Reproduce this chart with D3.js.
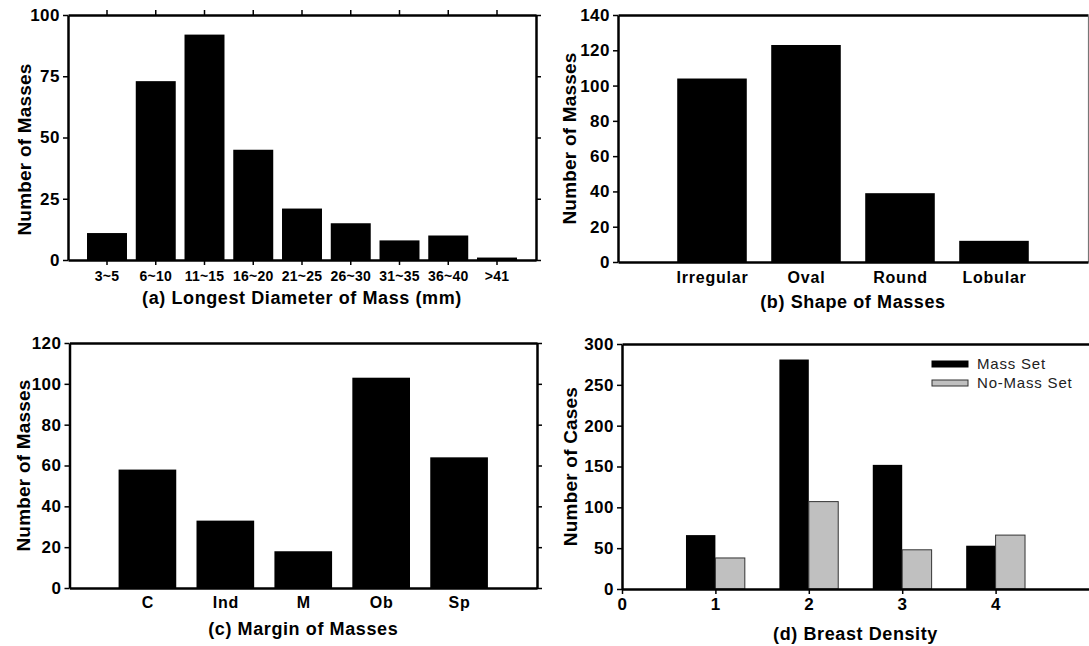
<!DOCTYPE html>
<html>
<head>
<meta charset="utf-8">
<script src="https://cdn.jsdelivr.net/npm/d3@7"></script>
<style>
body { margin: 0; background: #fff; }
svg { font-family: "Liberation Sans", Arial, sans-serif; }
.axis text { font-size: 16px; font-weight: bold; fill: #000; letter-spacing: 0.8px; }
.axis line { stroke: #000; stroke-width: 1.5; }
.axis path { stroke: #000; stroke-width: 2.5; }
.ttl { font-size: 18px; font-weight: bold; fill: #000; letter-spacing: 0.6px; }
.ytl { font-size: 19px; font-weight: bold; fill: #000; letter-spacing: 0.2px; }
.leg { font-size: 15px; fill: #222; letter-spacing: 0.8px; }
</style>
</head>
<body>
<svg id="fig" width="1089" height="646"></svg>
<script>
// (a) longest diameter
const diamCats = ["3~5", "6~10", "11~15", "16~20", "21~25", "26~30", "31~35", "36~40", ">41"];
const diamCounts = [11, 73, 92, 45, 21, 15, 8, 10, 1];
const diamTicks = [0, 25, 50, 75, 100];

// (b) shape
const shapeCats = ["Irregular", "Oval", "Round", "Lobular"];
const shapeCounts = [104, 123, 39, 12];
const shapeTicks = [0, 20, 40, 60, 80, 100, 120, 140];

// (c) margin
const marginCats = ["C", "Ind", "M", "Ob", "Sp"];
const marginCounts = [58, 33, 18, 103, 64];
const marginTicks = [0, 20, 40, 60, 80, 100, 120];

// (d) breast density
const densityLevels = [1, 2, 3, 4];
const massSet = [66, 281, 152, 53];
const noMassSet = [38, 107, 48, 66];
const densityTicks = [0, 50, 100, 150, 200, 250, 300];
const densityXTicks = [0, 1, 2, 3, 4];

const svg = d3.select("#fig");

function yAxisLeft(g, y, ticks, x0) {
	g.append("g").attr("class", "axis")
		.attr("transform", `translate(${x0},0)`)
		.call(d3.axisLeft(y).tickValues(ticks).tickSize(5).tickSizeOuter(0).tickPadding(3))
		.selectAll("text").style("font-size", "17px").style("letter-spacing", "0.5px");
}

function yTitle(g, text, cx, y, shift) {
	let [y1, y0] = y.range();
	g.append("text").attr("class", "ytl")
		.attr("transform", `translate(${cx},${(y0 + y1) / 2 + (shift || 0)}) rotate(-90)`)
		.attr("text-anchor", "middle")
		.attr("dy", "0.35em")
		.text(text);
}

function xTitle(g, text, x, baseline) {
	let r = x.range();
	g.append("text").attr("class", "ttl")
		.attr("x", (r[0] + r[r.length - 1]) / 2)
		.attr("y", baseline)
		.attr("text-anchor", "middle")
		.text(text);
}

// ---------- (a) ----------
{
	let x = d3.scaleBand().domain(diamCats).range([68, 536]).paddingInner(0.18).paddingOuter(0.39);
	let y = d3.scaleLinear().domain([0, 100]).range([260, 15]);
	let g = svg.append("g");

	g.selectAll("rect").data(diamCounts).join("rect")
		.attr("x", (d, i) => x(diamCats[i]))
		.attr("y", d => y(d))
		.attr("width", x.bandwidth())
		.attr("height", d => y(0) - y(d))
		.attr("fill", "#000");

	g.append("g").attr("class", "axis").attr("transform", `translate(0,${y(100)})`)
		.call(d3.axisTop(x).tickSize(5).tickSizeOuter(0).tickFormat(""));
	g.append("g").attr("class", "axis").attr("transform", `translate(${x.range()[1]},0)`)
		.call(d3.axisRight(y).tickValues(diamTicks).tickSize(5).tickSizeOuter(0).tickFormat(""));
	let xb = g.append("g").attr("class", "axis").attr("transform", `translate(0,${y(0)})`)
		.call(d3.axisBottom(x).tickSize(5).tickSizeOuter(0).tickPadding(6));
	xb.selectAll("text").style("font-size", "14px").style("letter-spacing", "0.2px");
	yAxisLeft(g, y, diamTicks, x.range()[0]);

	yTitle(g, "Number of Masses", 24, y, 12);
	xTitle(g, "(a) Longest Diameter of Mass (mm)", x, 304);
}

// ---------- (b) ----------
{
	let x = d3.scaleLinear().domain([0, 5]).range([618, 1088]);
	let y = d3.scaleLinear().domain([0, 140]).range([262, 15]);
	let bw = 0.74;
	let g = svg.append("g");

	g.selectAll("rect").data(shapeCounts).join("rect")
		.attr("x", (d, i) => x(i + 1 - bw / 2))
		.attr("y", d => y(d))
		.attr("width", x(bw) - x(0))
		.attr("height", d => y(0) - y(d))
		.attr("fill", "#000");

	g.append("g").attr("class", "axis").attr("transform", `translate(0,${y(140)})`)
		.call(d3.axisTop(x).tickValues([]).tickSizeOuter(0));
	g.append("g").attr("class", "axis").attr("transform", `translate(${x(5)},0)`)
		.call(d3.axisRight(y).tickValues([]).tickSizeOuter(0))
		.select("path").style("stroke", "#777").style("stroke-width", 1.2);
	g.append("g").attr("class", "axis").attr("transform", `translate(0,${y(0)})`)
		.call(d3.axisBottom(x).tickValues(shapeCats.map((c, i) => i + 1)).tickSize(0).tickSizeOuter(0)
			.tickPadding(10).tickFormat((d, i) => shapeCats[i]));
	yAxisLeft(g, y, shapeTicks, x(0));

	yTitle(g, "Number of Masses", 569, y);
	xTitle(g, "(b) Shape of Masses", x, 308);
}

// ---------- (c) ----------
{
	let x = d3.scaleLinear().domain([0, 6]).range([69.5, 537]);
	let y = d3.scaleLinear().domain([0, 120]).range([588, 343]);
	let bw = 0.74;
	let g = svg.append("g");

	g.selectAll("rect").data(marginCounts).join("rect")
		.attr("x", (d, i) => x(i + 1 - bw / 2))
		.attr("y", d => y(d))
		.attr("width", x(bw) - x(0))
		.attr("height", d => y(0) - y(d))
		.attr("fill", "#000");

	g.append("g").attr("class", "axis").attr("transform", `translate(0,${y(120)})`)
		.call(d3.axisTop(x).tickValues([]).tickSizeOuter(0));
	g.append("g").attr("class", "axis").attr("transform", `translate(${x(6)},0)`)
		.call(d3.axisRight(y).tickValues(marginTicks).tickSize(5).tickSizeOuter(0).tickFormat(""));
	g.append("g").attr("class", "axis").attr("transform", `translate(0,${y(0)})`)
		.call(d3.axisBottom(x).tickValues(marginCats.map((c, i) => i + 1)).tickSize(0).tickSizeOuter(0)
			.tickPadding(9).tickFormat((d, i) => marginCats[i]));
	yAxisLeft(g, y, marginTicks, x(0));

	yTitle(g, "Number of Masses", 23, y);
	xTitle(g, "(c) Margin of Masses", x, 635);
}

// ---------- (d) ----------
{
	let x = d3.scaleLinear().domain([0, 5]).range([622, 1089]);
	let y = d3.scaleLinear().domain([0, 300]).range([589, 344]);
	let bw = 0.315;
	let g = svg.append("g");

	g.selectAll("rect.mass").data(massSet).join("rect").attr("class", "mass")
		.attr("x", (d, i) => x(densityLevels[i] - bw))
		.attr("y", d => y(d))
		.attr("width", x(bw) - x(0))
		.attr("height", d => y(0) - y(d))
		.attr("fill", "#000");

	g.selectAll("rect.nomass").data(noMassSet).join("rect").attr("class", "nomass")
		.attr("x", (d, i) => x(densityLevels[i]))
		.attr("y", d => y(d))
		.attr("width", x(bw) - x(0))
		.attr("height", d => y(0) - y(d))
		.attr("fill", "#c0c0c0")
		.attr("stroke", "#333")
		.attr("stroke-width", 1);

	g.append("g").attr("class", "axis").attr("transform", `translate(0,${y(300)})`)
		.call(d3.axisTop(x).tickValues([]).tickSizeOuter(0));
	g.append("g").attr("class", "axis").attr("transform", `translate(0,${y(0)})`)
		.call(d3.axisBottom(x).tickValues(densityXTicks).tickSize(5).tickSizeOuter(0).tickPadding(4)
			.tickFormat(d3.format("d")))
		.selectAll("text").style("font-size", "17px");
	yAxisLeft(g, y, densityTicks, x(0));

	yTitle(g, "Number of Cases", 570, y);
	xTitle(g, "(d) Breast Density", x, 640);

	// legend
	let legend = [["Mass Set", "#000", "#000"], ["No-Mass Set", "#c0c0c0", "#333"]];
	let lg = g.append("g").attr("transform", "translate(932,361)");
	legend.forEach((l, i) => {
		lg.append("rect").attr("x", 0).attr("y", i * 19).attr("width", 36).attr("height", 6)
			.attr("fill", l[1]).attr("stroke", l[2]).attr("stroke-width", 1);
		lg.append("text").attr("class", "leg").attr("x", 45).attr("y", i * 19 + 3)
			.attr("dy", "0.35em").text(l[0]);
	});
}
</script>
</body>
</html>
